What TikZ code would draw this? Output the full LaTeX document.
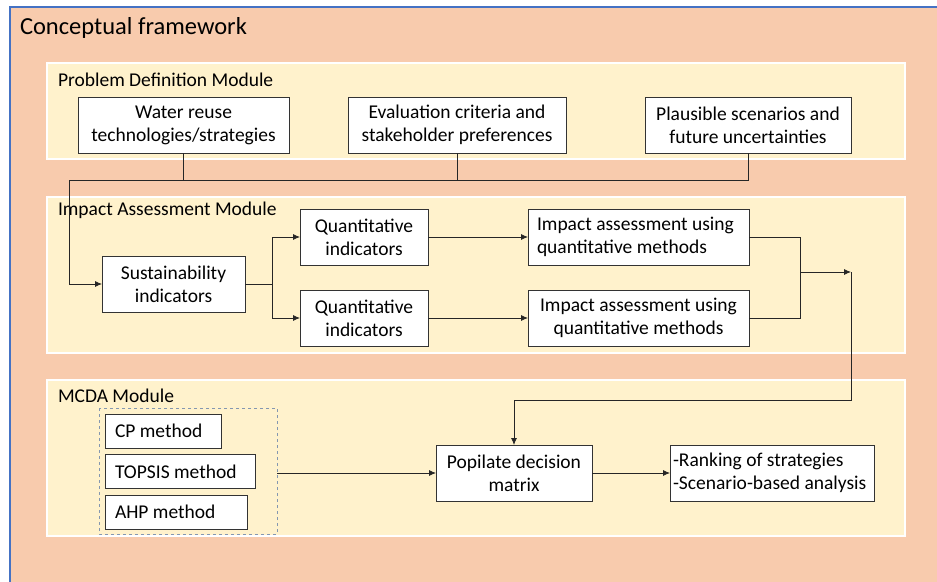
\documentclass[tikz,border=0pt]{standalone}
\usepackage{fontspec}
\setmainfont{Carlito}
\usetikzlibrary{positioning,arrows.meta}

\definecolor{peach}{HTML}{F8CBAD}
\definecolor{cream}{HTML}{FFF2CC}
\definecolor{frameblue}{HTML}{4472C4}
\definecolor{groupgray}{HTML}{8497B0}

\begin{document}
\begin{tikzpicture}
[x=1pt,y=-1pt,
 every node/.style={font=\fontsize{19.5}{23}\selectfont,inner sep=0pt,outer sep=0pt},
 box/.style={draw=black!80,line width=1pt,fill=white,minimum height=56pt,align=center},
 lbox/.style={box,align=flush left,anchor=west,inner xsep=10pt,text width=#1,minimum height=34pt},
 module/.style={draw=white,line width=2pt,fill=cream},
 title/.style={anchor=west},
 arr/.style={-{Latex[length=7pt,width=6pt]}},
 link/.style={draw=black!85,line width=0.8pt}]
\useasboundingbox (0,0) rectangle (937,581);

% outer frame
\fill[peach] (10,7) rectangle (940,585);
\draw[frameblue,line width=1.5pt] (10,585) -- (10,7) -- (940,7);
\node[title,font=\fontsize{24.5}{28}\selectfont] (frame) at (20,28) {Conceptual framework};

% modules
\path[module] (47,63)  rectangle (905,159);
\path[module] (47,197) rectangle (905,353);
\path[module] (47,380) rectangle (905,536);
\node[title] (pdm) at (58,80)  {Problem Definition Module};
\node[title] (iam) at (58,210) {Impact Assessment Module};
\node[title] (mcda) at (58,396) {MCDA Module};

% problem definition
\node[box,minimum width=211pt] (water) at (183.5,125) {Water reuse\\technologies/strategies};
\node[box,minimum width=218pt] (crit)  at (457,125)   {Evaluation criteria and\\stakeholder preferences};
\node[box,minimum width=206pt] (scen)  at (748,125)   {Plausible scenarios and\\future uncertainties};

% impact assessment
\node[box,minimum width=143pt] (sust)  at (173.5,284) {Sustainability\\indicators};
\node[box,minimum width=128pt] (quan1) at (364,237)   {Quantitative\\indicators};
\node[box,minimum width=128pt] (quan2) at (364,318)   {Quantitative\\indicators};
\node[box,minimum width=221pt,text width=203pt,align=flush left] (imp1) at (638.5,237) {Impact assessment using\\quantitative methods};
\node[box,minimum width=221pt] (imp2)  at (638.5,318) {Impact assessment using\\quantitative methods};

% mcda
\draw[groupgray,dashed,line width=1pt] (99,408) rectangle (277,534);
\node[lbox=96pt]  (cp)     at (105,431)   {CP method};
\node[lbox=130pt] (topsis) at (105,471.5) {TOPSIS method};
\node[lbox=122pt] (ahp)    at (105,512)   {AHP method};
\coordinate (group) at (277,473);
\node[box,minimum width=156pt] (popl)   at (514,473) {Popilate decision\\matrix};
\node[box,minimum width=204pt,text width=198pt,align=flush left] (result) at (772,473) {-Ranking of strategies\\-Scenario-based analysis};

% connectors
\coordinate (busL)  at (69,180);
\coordinate (split) at (272,284);
\coordinate (join)  at (800,272);
\coordinate (turn)  at (851,272);
\coordinate (drop)  at (851,400);
\draw[link] (scen.south) |- (busL);
\draw[link] (water.south) -- (water.south |- busL);
\draw[link] (crit.south) -- (crit.south |- busL);
\draw[link,arr] (busL) |- (sust.west);
\draw[link] (sust.east) -- (split);
\draw[link,arr] (split) |- (quan1.west);
\draw[link,arr] (split) |- (quan2.west);
\draw[link,arr] (quan1) -- (imp1);
\draw[link,arr] (quan2) -- (imp2);
\draw[link] (imp1.east) -| (join);
\draw[link] (imp2.east) -| (join);
\draw[link,arr] (join) -- (turn);
\draw[link,arr] (turn) -- (drop) -| (popl.north);
\draw[link,arr] (group) -- (popl.west);
\draw[link,arr] (popl) -- (result);
\end{tikzpicture}
\end{document}
